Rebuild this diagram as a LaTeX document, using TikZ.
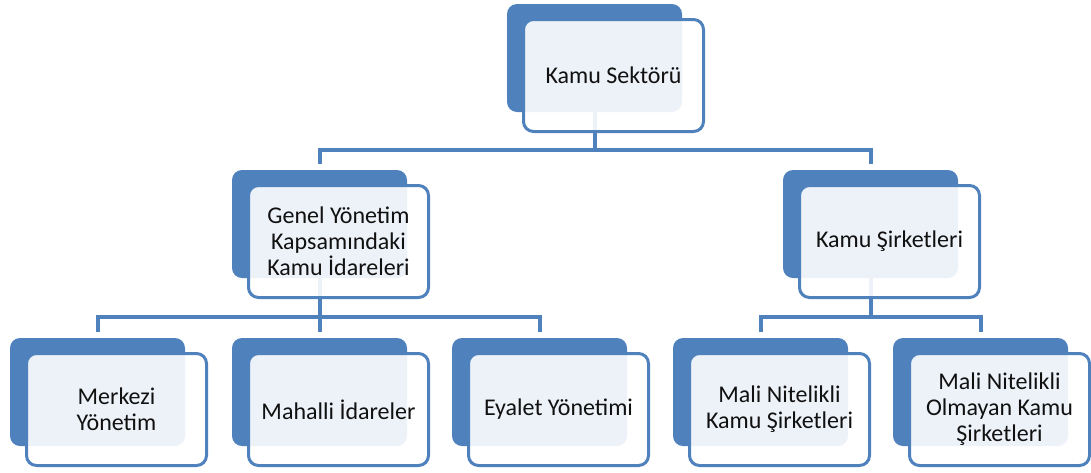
\documentclass[tikz,border=0pt]{standalone}
\usepackage{fontspec}
\setmainfont{Carlito}
\definecolor{accent}{HTML}{4F81BD}
\definecolor{ink}{HTML}{111111}
\tikzset{
  backbox/.style={anchor=north west, fill=accent, rounded corners=10pt,
    minimum width=175pt, minimum height=108pt, inner sep=0pt, outer sep=0pt},
  frontbox/.style={draw=accent, line width=3pt, fill=white, fill opacity=0.9,
    text opacity=1, rounded corners=10pt, minimum width=180pt, minimum height=112pt,
    align=center, text=ink, font=\fontsize{24pt}{26pt}\selectfont, inner sep=2pt},
  conn/.style={draw=accent, line width=4pt, shorten >=6pt},
  front/.style={shift={(106.5,71.5)}}
}
\begin{document}
\begin{tikzpicture}[x=1pt,y=-1pt]
\useasboundingbox (0,0) rectangle (1091,472);

% solid back plates
\node[backbox] (ks-b)  at (507,4) {};
\node[backbox] (gy-b)  at (232,170) {};
\node[backbox] (ksr-b) at (783,170) {};
\node[backbox] (mk-b)  at (10,338) {};
\node[backbox] (mh-b)  at (232,338) {};
\node[backbox] (ey-b)  at (452,338) {};
\node[backbox] (mn-b)  at (673,338) {};
\node[backbox] (mo-b)  at (893,338) {};

% bus levels
\coordinate (bus1) at (0,150);
\coordinate (bus2) at (0,317);

% connectors
\foreach \c in {gy-b,ksr-b}
  \draw[conn] (ks-b.center) -- (ks-b.center |- bus1) -| (\c.north);
\foreach \c in {mk-b,mh-b,ey-b}
  \draw[conn] (gy-b.center) -- (gy-b.center |- bus2) -| (\c.north);
\foreach \c in {mn-b,mo-b}
  \draw[conn] (ksr-b.center) -- (ksr-b.center |- bus2) -| (\c.north);

% front cards with labels
\node[frontbox] (ks)  at ([front]ks-b.north west)  {Kamu Sektörü};
\node[frontbox] (gy)  at ([front]gy-b.north west)  {Genel Yönetim\\Kapsamındaki\\Kamu İdareleri};
\node[frontbox] (ksr) at ([front]ksr-b.north west) {Kamu Şirketleri};
\node[frontbox] (mk)  at ([front]mk-b.north west)  {Merkezi\\Yönetim};
\node[frontbox] (mh)  at ([front]mh-b.north west)  {Mahalli İdareler};
\node[frontbox] (ey)  at ([front]ey-b.north west)  {Eyalet Yönetimi};
\node[frontbox] (mn)  at ([front]mn-b.north west)  {Mali Nitelikli\\Kamu Şirketleri};
\node[frontbox] (mo)  at ([front]mo-b.north west)  {Mali Nitelikli\\Olmayan Kamu\\Şirketleri};
\end{tikzpicture}
\end{document}
